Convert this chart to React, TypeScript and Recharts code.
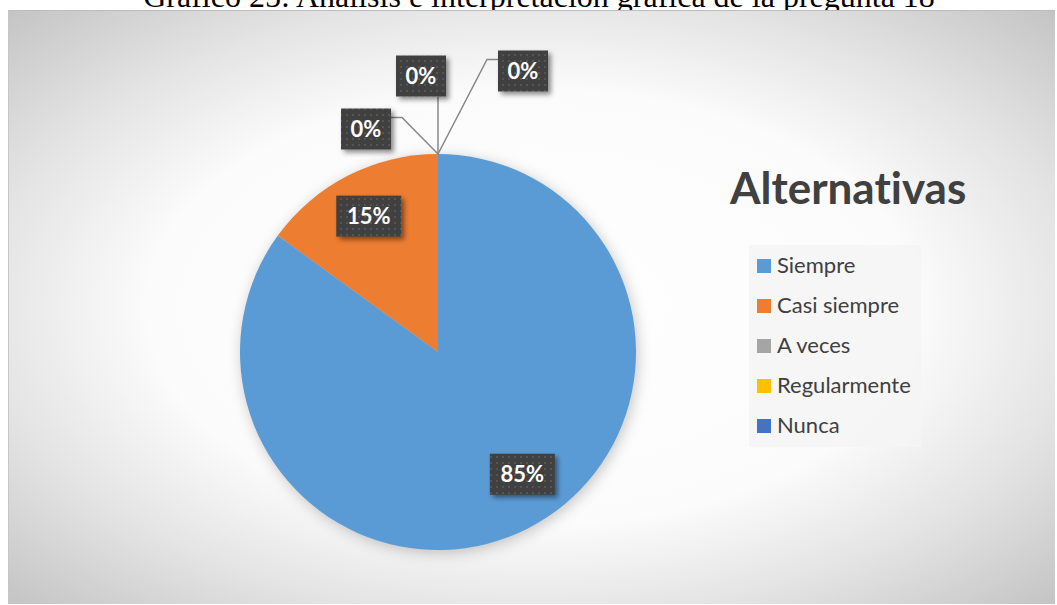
import React from "react";
import { PieChart, Pie, Cell, Legend } from "recharts";

const categories = ["Siempre", "Casi siempre", "A veces", "Regularmente", "Nunca"];
const percentages = [85, 15, 0, 0, 0];
const sliceColors = ["#5B9BD5", "#ED7D31", "#A5A5A5", "#FFC000", "#4472C4"];

const chartTitle = "Gráfico 25: Análisis e interpretación gráfica de la pregunta 18";
const legendTitle = "Alternativas";

const pieData = categories.map((name, i) => ({
  name,
  value: percentages[i],
  fill: sliceColors[i],
}));

const CHART_LEFT = 8;
const CHART_TOP = 10;
const CHART_W = 1047;
const CHART_H = 594;
const PIE_CX = 430;
const PIE_CY = 342;
const PIE_R = 198;

// the labels were dragged by hand in Excel: inner ones get a polar tweak,
// the empty slices get a callout box offset from where the slice sits on the rim
const labelPlacement: any[] = [
  { mode: "inside", angleShift: 7.6, ratio: 0.75 },
  { mode: "inside", angleShift: 0, ratio: 0.77 },
  { mode: "callout", dx: -72, dy: -25, attach: "right" },
  { mode: "callout", dx: -17, dy: -78, attach: "bottom" },
  { mode: "callout", dx: 85, dy: -83, attach: "left" },
];

const RAD = Math.PI / 180;

function renderLabel(props: any) {
  const { cx, cy, midAngle, outerRadius, index, value } = props;
  const place = labelPlacement[index];
  const text = `${value}%`;
  const w = 20 + text.length * 15;
  const h = 41;
  let bx = 0;
  let by = 0;
  let leader = null;

  if (place.mode === "inside") {
    const a = (midAngle + place.angleShift) * RAD;
    bx = cx + outerRadius * place.ratio * Math.cos(a);
    by = cy - outerRadius * place.ratio * Math.sin(a);
  } else {
    const a = midAngle * RAD;
    const ax = cx + outerRadius * Math.cos(a);
    const ay = cy - outerRadius * Math.sin(a);
    bx = ax + place.dx;
    by = ay + place.dy;
    const ly = by - h / 2 + 9;
    let pts: number[][];
    if (place.attach === "right") {
      const xr = bx + w / 2;
      pts = [[ax, ay], [xr + 11, ly], [xr, ly]];
    } else if (place.attach === "left") {
      const xl = bx - w / 2;
      pts = [[ax, ay], [xl - 11, ly], [xl, ly]];
    } else {
      pts = [[ax, ay], [ax, by + h / 2]];
    }
    leader = (
      <polyline
        points={pts.map((p) => p.join(",")).join(" ")}
        fill="none"
        stroke="#878787"
        strokeWidth={1.5}
      />
    );
  }

  return (
    <g key={`label-${index}`}>
      {leader}
      <rect
        x={bx - w / 2}
        y={by - h / 2}
        width={w}
        height={h}
        fill="url(#dotFill)"
        filter="url(#boxShadow)"
      />
      <text
        x={bx}
        y={by + 8}
        textAnchor="middle"
        fill="#ffffff"
        fontFamily="Lato, 'Open Sans', sans-serif"
        fontWeight={700}
        fontSize={22}
      >
        {text}
      </text>
    </g>
  );
}

// legend drawn from the same arrays as the slices, in the sheet's order
function renderLegend() {
  return (
    <svg width={300} height={300} style={{ overflow: "visible" }}>
      <text
        x={10}
        y={34}
        fill="#404040"
        fontFamily="Lato, sans-serif"
        fontWeight={700}
        fontSize={44}
        style={{ fontVariantLigatures: "none" }}
      >
        {legendTitle}
      </text>
      <rect x={29} y={75} width={172} height={202} fill="#f4f4f4" fillOpacity={0.85} />
      {categories.map((name, i) => (
        <g key={`leg-${i}`}>
          <rect x={37} y={89 + i * 40} width={14} height={14} fill={sliceColors[i]} />
          <text
            x={57}
            y={103 + i * 40}
            fill="#404040"
            fontFamily="Lato, sans-serif"
            fontSize={22}
          >
            {name}
          </text>
        </g>
      ))}
    </svg>
  );
}

export default function App() {
  return (
    <div
      style={{
        position: "fixed",
        left: 0,
        top: 0,
        width: 1057,
        height: 605,
        background: "#ffffff",
        overflow: "hidden",
      }}
    >
      <svg style={{ position: "absolute", width: 0, height: 0 }}>
        <defs>
          <pattern id="dotFill" width="6" height="6" patternUnits="userSpaceOnUse">
            <rect width="6" height="6" fill="#3f3f3f" />
            <rect x="2" y="2" width="2" height="2" fill="#545454" />
          </pattern>
          <filter id="boxShadow" x="-30%" y="-30%" width="160%" height="160%">
            <feDropShadow dx="3" dy="3" stdDeviation="2.5" floodColor="#000" floodOpacity="0.45" />
          </filter>
          <filter id="pieShadow" x="-20%" y="-20%" width="140%" height="140%">
            <feGaussianBlur stdDeviation="7" />
          </filter>
        </defs>
      </svg>

      <svg style={{ position: "absolute", left: 0, top: 0 }} width={1057} height={20}>
        <text
          x={539}
          y={7}
          textAnchor="middle"
          fill="#000"
          fontFamily="'Liberation Serif', 'Times New Roman', serif"
          fontSize={32}
        >
          {chartTitle}
        </text>
      </svg>

      <div
        style={{
          position: "absolute",
          left: CHART_LEFT,
          top: CHART_TOP,
          width: CHART_W,
          height: CHART_H,
          boxSizing: "border-box",
          borderTop: "1px solid #bdbdbd",
          borderLeft: "1px solid #c6c6c6",
          background:
            "radial-gradient(ellipse farthest-corner at 50% 50%, #ffffff 0%, #fbfbfb 52%, #e3e3e3 75%, #c4c4c4 100%)",
        }}
      />

      <div style={{ position: "absolute", left: CHART_LEFT, top: CHART_TOP }}>
        <PieChart
          width={CHART_W}
          height={CHART_H}
          margin={{ top: 0, right: 0, bottom: 0, left: 0 }}
        >
          <Pie
            data={pieData}
            dataKey="value"
            nameKey="name"
            cx={PIE_CX + 2}
            cy={PIE_CY + 3}
            outerRadius={PIE_R}
            startAngle={90}
            endAngle={-270}
            stroke="none"
            legendType="none"
            label={false}
            labelLine={false}
            isAnimationActive={false}
          >
            {pieData.map((d, i) => (
              <Cell key={`sh-${i}`} fill="#000000" fillOpacity={0.22} filter="url(#pieShadow)" />
            ))}
          </Pie>
          <Pie
            data={pieData}
            dataKey="value"
            nameKey="name"
            cx={PIE_CX}
            cy={PIE_CY}
            outerRadius={PIE_R}
            startAngle={90}
            endAngle={-270}
            stroke="none"
            label={renderLabel}
            labelLine={false}
            isAnimationActive={false}
          >
            {pieData.map((d, i) => (
              <Cell key={`c-${i}`} fill={d.fill} />
            ))}
          </Pie>
          <Legend
            layout="vertical"
            align="right"
            verticalAlign="top"
            wrapperStyle={{ left: 712, top: 160, width: 300, height: 300 }}
            content={renderLegend}
          />
        </PieChart>
      </div>
    </div>
  );
}
